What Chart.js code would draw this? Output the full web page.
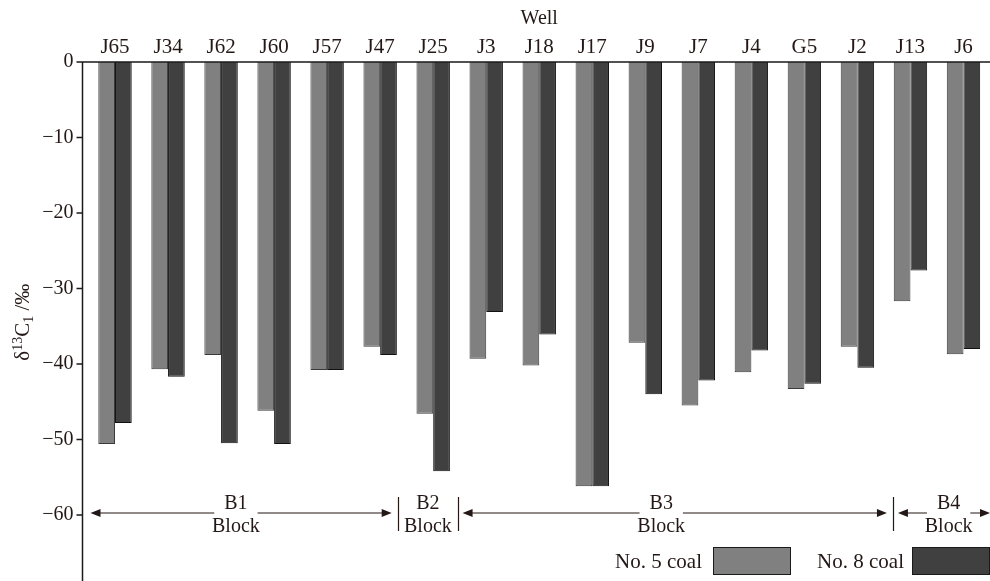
<!DOCTYPE html>
<html>
<head>
<meta charset="utf-8">
<script src="https://cdn.jsdelivr.net/npm/chart.js@4/dist/chart.umd.min.js"></script>
<style>
  html, body { margin: 0; padding: 0; background: #fff; }
  #c { display: block; }
</style>
</head>
<body>
<canvas id="c" width="990" height="581"></canvas>
<script>
// Wells along the top axis
const wells = ['J65','J34','J62','J60','J57','J47','J25','J3','J18','J17','J9','J7','J4','G5','J2','J13','J6'];
// δ13C1 (‰) of methane in No. 5 and No. 8 coal
const coal5 = [-50.6,-40.7,-38.8,-46.2,-40.8,-37.7,-46.6,-39.3,-40.2,-56.2,-37.2,-45.5,-41.1,-43.3,-37.7,-31.7,-38.7];
const coal8 = [-47.8,-41.7,-50.5,-50.6,-40.8,-38.8,-54.2,-33.1,-36.1,-56.2,-44.0,-42.2,-38.2,-42.6,-40.5,-27.6,-38.0];
// Y-axis tick values
const yTicks = [0,-10,-20,-30,-40,-50,-60];
const yMin = -68.74, yMax = 0;
// Structural blocks: names, boundaries (category units) and label centres
const blockNames = ['B1','B2','B3','B4'];
const blockEdges = [-0.5, 5.33, 6.46, 14.67, 16.5];
const blockLabelAt = [2.28, 5.9, 10.3, 15.72];
const blockLevel = -60;

const SERIF = '"Liberation Serif", "Times New Roman", serif';
const INK = '#231815';

// Axis lines: left axis sits a few pixels outside the plot area
const framePlugin = {
  id: 'frame',
  afterDatasetsDraw(chart) {
    const { ctx, chartArea, scales } = chart;
    const ax = chartArea.left - 6;
    ctx.save();
    ctx.strokeStyle = '#1a1a1a';
    ctx.lineWidth = 1.5;
    ctx.beginPath();
    ctx.moveTo(ax, chartArea.top);
    ctx.lineTo(chart.width, chartArea.top);
    ctx.moveTo(ax, chartArea.top);
    ctx.lineTo(ax, chart.height);
    scales.y.ticks.forEach(t => {
      const y = scales.y.getPixelForValue(t.value);
      ctx.moveTo(ax - 6, y);
      ctx.lineTo(ax, y);
    });
    ctx.stroke();
    ctx.restore();
  }
};

function arrowHead(ctx, x, y, dir) {
  ctx.beginPath();
  ctx.moveTo(x, y);
  ctx.lineTo(x - dir * 10, y - 4);
  ctx.lineTo(x - dir * 10, y + 4);
  ctx.closePath();
  ctx.fill();
}

// Block annotations along the -60 level
const blockPlugin = {
  id: 'blocks',
  afterDraw(chart) {
    const { ctx, scales } = chart;
    const xs = scales.x, y = scales.y.getPixelForValue(blockLevel) - 2;
    ctx.save();
    ctx.strokeStyle = INK; ctx.fillStyle = INK; ctx.lineWidth = 1.2;
    ctx.font = '20px ' + SERIF;
    ctx.textAlign = 'center';
    // separators
    for (let i = 1; i < blockEdges.length - 1; i++) {
      const x = Math.round(xs.getPixelForValue(blockEdges[i])) + 0.5;
      ctx.beginPath(); ctx.moveTo(x, y - 16); ctx.lineTo(x, y + 18); ctx.stroke();
    }
    blockNames.forEach((name, i) => {
      const cx = xs.getPixelForValue(blockLabelAt[i]);
      ctx.textBaseline = 'alphabetic';
      ctx.fillText(name, cx, y - 4);
      ctx.fillText('Block', cx, y + 19);
      if (name === 'B2') return;
      const l = xs.getPixelForValue(blockEdges[i]) + (i === 0 ? 2 : 5);
      const r = i === blockNames.length - 1 ? chart.width : xs.getPixelForValue(blockEdges[i + 1]) - 6;
      const half = ctx.measureText(name).width / 2 + 10;
      ctx.beginPath();
      ctx.moveTo(l + 4, y); ctx.lineTo(cx - half, y);
      ctx.moveTo(cx + half, y); ctx.lineTo(r - 4, y);
      ctx.stroke();
      arrowHead(ctx, l, y, -1);
      arrowHead(ctx, r, y, 1);
    });
    ctx.restore();
  }
};

// Rotated y-axis title with super/subscripts: δ13C1/‰
const yTitlePlugin = {
  id: 'ytitle',
  afterDraw(chart) {
    const { ctx, scales } = chart;
    const big = '21px ' + SERIF, small = '14px ' + SERIF;
    const parts = [
      { t: 'δ', f: big, dy: 0 },
      { t: '13', f: small, dy: -7 },
      { t: 'C', f: big, dy: 0 },
      { t: '1', f: small, dy: 4 },
      { t: ' /‰', f: big, dy: 0 }
    ];
    ctx.save();
    let w = 0;
    parts.forEach(p => { ctx.font = p.f; p.w = ctx.measureText(p.t).width; w += p.w; });
    const cy = (scales.y.getPixelForValue(-30) + scales.y.getPixelForValue(-40)) / 2 - 4;
    ctx.translate(29, cy);
    ctx.rotate(-Math.PI / 2);
    ctx.fillStyle = INK;
    ctx.textBaseline = 'alphabetic';
    let x = -w / 2;
    parts.forEach(p => { ctx.font = p.f; ctx.fillText(p.t, x, p.dy); x += p.w; });
    ctx.restore();
  }
};

// Legend at the bottom right: label text followed by a swatch
const legendPlugin = {
  id: 'legendRow',
  afterDraw(chart) {
    const { ctx } = chart;
    const slots = [{ textRight: 702, box: 713 }, { textRight: 904, box: 912 }];
    ctx.save();
    ctx.font = '21px ' + SERIF;
    ctx.textAlign = 'right';
    ctx.textBaseline = 'middle';
    chart.data.datasets.forEach((ds, i) => {
      const s = slots[i];
      ctx.fillStyle = INK;
      ctx.fillText(ds.label, s.textRight, 562);
      ctx.fillStyle = ds.backgroundColor;
      ctx.fillRect(s.box, 547, 78, 28);
      ctx.strokeStyle = '#1a1a1a';
      ctx.lineWidth = 1;
      ctx.strokeRect(s.box + 0.5, 547.5, 77, 27);
    });
    ctx.restore();
  }
};

new Chart(document.getElementById('c'), {
  type: 'bar',
  data: {
    labels: wells,
    datasets: [
      { label: 'No. 5 coal', data: coal5, backgroundColor: '#808080', borderColor: '#3a3a3a', borderWidth: 1, borderSkipped: 'start', categoryPercentage: 0.63, barPercentage: 1 },
      { label: 'No. 8 coal', data: coal8, backgroundColor: '#404040', borderColor: '#111111', borderWidth: 1, borderSkipped: 'start', categoryPercentage: 0.63, barPercentage: 1 }
    ]
  },
  options: {
    responsive: false,
    animation: false,
    devicePixelRatio: 1,
    layout: { padding: 0, autoPadding: false },
    plugins: { legend: { display: false }, tooltip: { enabled: false } },
    scales: {
      x: {
        position: 'top',
        grid: { display: false, drawTicks: false },
        border: { display: false },
        ticks: { font: { family: SERIF, size: 21 }, color: INK, padding: 2, maxRotation: 0, autoSkip: false },
        title: { display: true, text: 'Well', font: { family: SERIF, size: 20 }, color: INK, padding: { top: 7, bottom: 0 } },
        afterFit(s) { s.height = 62; s.paddingLeft = 0; s.paddingRight = 0; }
      },
      y: {
        min: yMin,
        max: yMax,
        bounds: 'data',
        grid: { display: false, drawTicks: false },
        border: { display: false },
        ticks: {
          includeBounds: false,
          padding: 15,
          font: { family: SERIF, size: 20 },
          color: INK,
          callback: v => (v < 0 ? '\u2212' + Math.abs(v) : String(v))
        },
        afterBuildTicks(s) {
          s.ticks = yTicks.map(v => ({ value: v }));
          s.min = yMin; s.max = yMax;
        },
        afterFit(s) { s.width = 88.5; s.paddingTop = 0; s.paddingBottom = 0; }
      }
    }
  },
  plugins: [framePlugin, blockPlugin, yTitlePlugin, legendPlugin]
});
</script>
</body>
</html>
